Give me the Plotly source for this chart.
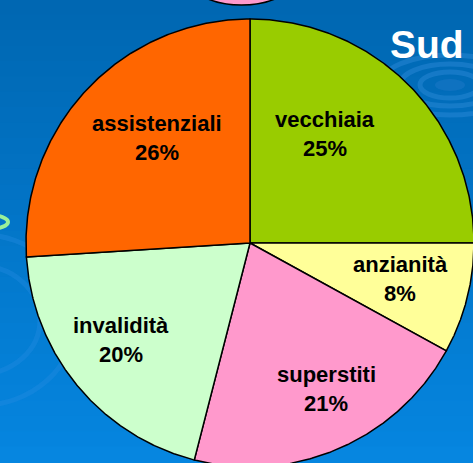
import numpy as np
import plotly.graph_objects as go

# ---- data ----
categories = ["vecchiaia", "anzianità", "superstiti", "invalidità", "assistenziali"]
values = [25, 8, 21, 20, 26]
colors = ["#99CC00", "#FFFF99", "#FF99CC", "#CCFFCC", "#FF6600"]

# ---- layout constants (pixels) ----
W, H = 473, 463
CX, CY, R = 250, 243, 224
label_pos = {  # centre x, baseline of first line
    "vecchiaia": (325, 128),
    "anzianità": (400, 273),
    "superstiti": (326, 383),
    "invalidità": (121, 334),
    "assistenziali": (157, 132),
}
FS = 22
LINE_GAP = 29

fig = go.Figure()

# background gradient bands
shapes = []
top = np.array([0x00, 0x67, 0xB2])
bot = np.array([0x06, 0x86, 0xE0])
nb = 30
for i in range(nb):
    t = i / (nb - 1)
    c = (top * (1 - t) + bot * t).astype(int)
    shapes.append(dict(type="rect", xref="x", yref="y", x0=-5, x1=W + 5,
                       y0=H * i / nb - 1, y1=H * (i + 1) / nb + 1,
                       fillcolor="rgb(%d,%d,%d)" % tuple(c), line=dict(width=0), layer="below"))
# decorative rings top right
for k, (rx, ry) in enumerate([(70, 30), (50, 21), (30, 13)]):
    shapes.append(dict(type="circle", xref="x", yref="y", x0=450 - rx, x1=450 + rx,
                       y0=85 - ry, y1=85 + ry, line=dict(color="rgba(60,150,225,0.35)", width=5),
                       fillcolor="rgba(0,0,0,0)", layer="below"))
shapes.append(dict(type="circle", xref="x", yref="y", x0=435, x1=465, y0=79, y1=91,
                   fillcolor="rgba(30,120,200,0.5)", line=dict(width=0), layer="below"))
# faint arcs bottom left
for rr in [60, 95]:
    shapes.append(dict(type="circle", xref="x", yref="y", x0=-rr - 20, x1=rr - 20,
                       y0=320 - rr * 0.9, y1=320 + rr * 0.9,
                       line=dict(color="rgba(40,140,225,0.35)", width=5),
                       fillcolor="rgba(0,0,0,0)", layer="below"))
# pink ellipse at top
shapes.append(dict(type="circle", xref="x", yref="y", x0=190, x1=293, y0=-45, y1=5,
                   fillcolor="#FF99CC", line=dict(color="black", width=1.5), layer="below"))
# green ring at left
shapes.append(dict(type="circle", xref="x", yref="y", x0=-30, x1=8, y0=215, y1=229,
                   fillcolor="rgba(0,0,0,0)", line=dict(color="#99F099", width=4), layer="below"))

# pie slices drawn from the values
total = sum(values)
cum = np.cumsum([0] + values) / total * 2 * np.pi
for i, (cat, col) in enumerate(zip(categories, colors)):
    th = np.linspace(cum[i], cum[i + 1], 200)
    xs = np.concatenate([[CX], CX + R * np.sin(th), [CX]])
    ys = np.concatenate([[CY], CY - R * np.cos(th), [CY]])
    fig.add_trace(go.Scatter(x=xs, y=ys, fill="toself", fillcolor=col, mode="lines",
                             line=dict(color="black", width=1.5), name=cat,
                             hoverinfo="name", showlegend=False))

annotations = []
for cat, v in zip(categories, values):
    x, yb = label_pos[cat]
    for txt, b in [(cat, yb), ("%d%%" % round(100 * v / total), yb + LINE_GAP)]:
        annotations.append(dict(x=x, y=b - 9, xref="x", yref="y", text="<b>%s</b>" % txt,
                                showarrow=False, xanchor="center", yanchor="middle",
                                font=dict(family="Liberation Sans, Arial", size=FS, color="black")))
annotations.append(dict(x=388, y=44, xref="x", yref="y", text="<b>Sud</b>",
                        showarrow=False, xanchor="left", yanchor="middle",
                        font=dict(family="Liberation Sans, Arial", size=39, color="white")))

fig.update_layout(
    width=W, height=H, margin=dict(l=0, r=0, t=0, b=0),
    paper_bgcolor="#0A78C8", plot_bgcolor="#0A78C8",
    xaxis=dict(range=[0, W], visible=False, fixedrange=True),
    yaxis=dict(range=[H, 0], visible=False, fixedrange=True),
    shapes=shapes, annotations=annotations, showlegend=False,
)
fig.write_html("out.html", config={"displayModeBar": False},
               post_script="document.body.style.margin='0';document.body.style.overflow='hidden';")
